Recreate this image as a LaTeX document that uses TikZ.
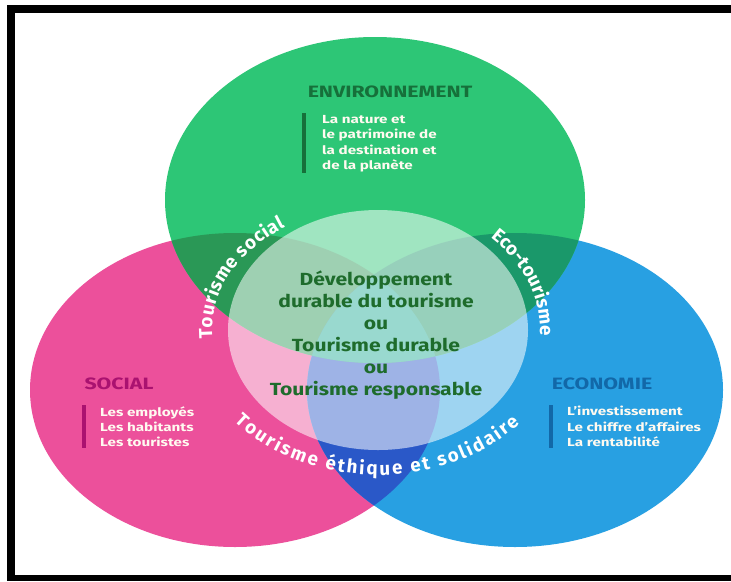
\documentclass[tikz,border=0pt]{standalone}
\usepackage{fontspec}
\setmainfont{Fira Sans}
\usepackage{graphicx}
\usetikzlibrary{decorations.text}
\definecolor{envgreen}{RGB}{45,198,118}
\definecolor{envdark}{RGB}{22,112,58}
\definecolor{socpink}{RGB}{236,80,155}
\definecolor{socdark}{RGB}{170,18,112}
\definecolor{ecoblue}{RGB}{40,160,226}
\definecolor{ecodark}{RGB}{18,104,168}
\definecolor{greenpink}{RGB}{42,152,86}
\definecolor{greenblue}{RGB}{26,152,106}
\definecolor{pinkblue}{RGB}{42,88,200}
\definecolor{allthree}{RGB}{30,172,150}
\definecolor{itemwhite}{RGB}{255,250,240}
\definecolor{coretext}{RGB}{30,108,44}
\newcommand{\wide}[1]{\scalebox{1.3}[1]{#1}}
\newcommand{\arcfont}{\bfseries\fontsize{16}{18}\selectfont}

\begin{document}
\begin{tikzpicture}[x=0.03cm, y=-0.03cm,
  title/.style={font=\bfseries\fontsize{14}{16}\selectfont, inner sep=0},
  items/.style={font=\bfseries\fontsize{10}{13.2}\selectfont, align=left, anchor=north west, inner sep=0, text=itemwhite},
  bar/.style={line width=2.6pt},
  arclabel/.style={decorate, decoration={text along path, text align=fit to path, text color=white, text={#1}}}
]
% frame
\fill[white] (0,0) rectangle (731,581);
\useasboundingbox (0,0) rectangle (731,581);
\fill[black] (7,5) rectangle (731,581);
\fill[white] (15,13) rectangle (731,575);

% the three spheres
\fill[socpink] (235,390) ellipse [x radius=205, y radius=157];
\fill[ecoblue] (515,390) ellipse [x radius=208, y radius=157];
\fill[envgreen] (375,200) ellipse [x radius=210, y radius=163];
\begin{scope}
  \clip (235,390) ellipse [x radius=205, y radius=157];
  \fill[greenpink] (375,200) ellipse [x radius=210, y radius=163];
  \fill[pinkblue] (515,390) ellipse [x radius=208, y radius=157];
\end{scope}
\begin{scope}
  \clip (515,390) ellipse [x radius=208, y radius=157];
  \fill[greenblue] (375,200) ellipse [x radius=210, y radius=163];
  \clip (235,390) ellipse [x radius=205, y radius=157];
  \fill[allthree] (375,200) ellipse [x radius=210, y radius=163];
\end{scope}
\fill[white, opacity=0.55] (378,330) ellipse [x radius=150, y radius=120];

% environnement
\node[title, text=envdark] (envtitle) at (390,92) {\wide{ENVIRONNEMENT}};
\draw[bar, envdark] (304,113) -- (304,173);
\node[items] (envitems) at (322,115) {\wide{La nature et}\\\wide{le patrimoine de}\\\wide{la destination et}\\\wide{de la planète}};

% social
\node[title, text=socdark] (soctitle) at (119,384) {\wide{SOCIAL}};
\draw[bar, socdark] (84,405) -- (84,448);
\node[items] (socitems) at (100,406) {\wide{Les employés}\\\wide{Les habitants}\\\wide{Les touristes}};

% economie
\node[title, text=ecodark] (ecotitle) at (602,384) {\wide{ECONOMIE}};
\draw[bar, ecodark] (551,405) -- (551,448);
\node[items] (ecoitems) at (567,406) {\wide{L’investissement}\\\wide{Le chiffre d’affaires}\\\wide{La rentabilité}};

% centre
\node[font=\bfseries\fontsize{15}{18.7}\selectfont, align=center, anchor=north, inner sep=0, text=coretext] (core) at (376,271)
  {\scalebox{1.2}[1]{Développement}\\\scalebox{1.2}[1]{durable du tourisme}\\\scalebox{1.2}[1]{ou}\\\scalebox{1.2}[1]{Tourisme durable}\\\scalebox{1.2}[1]{ou}\\\scalebox{1.2}[1]{Tourisme responsable}};

% labels along the overlaps
\path[arclabel={|\arcfont|Tourisme social}] (378,330) ++(176:166 and 124) arc [start angle=176, end angle=236, x radius=166, y radius=124];
\path[arclabel={|\arcfont|Eco-tourisme}] (378,330) ++(314:162 and 129) arc [start angle=314, end angle=362, x radius=162, y radius=129];
\path[arclabel={|\arcfont|Tourisme éthique et solidaire}] (378,330) ++(141:185 and 145) arc [start angle=141, end angle=40, x radius=185, y radius=145];
\end{tikzpicture}
\end{document}
